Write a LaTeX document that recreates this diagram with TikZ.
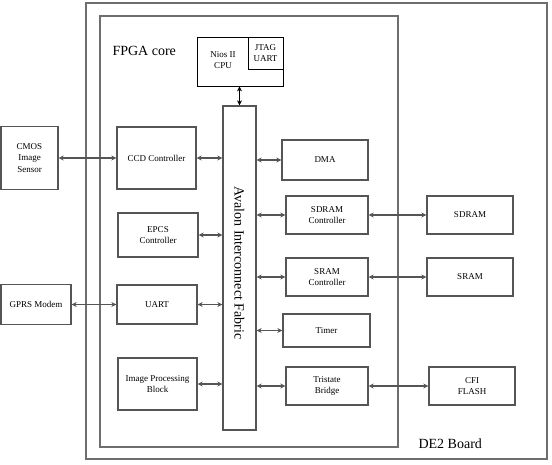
\documentclass[tikz,border=0pt]{standalone}
\usepackage{fontspec}
\setmainfont{Liberation Serif}
\usetikzlibrary{arrows.meta}
\definecolor{framegray}{RGB}{110,110,110}
\definecolor{boxgray}{RGB}{85,85,85}
\tikzset{
    blk/.style={draw=boxgray, line width=1.3pt, inner sep=1pt, align=center, font=\fontsize{9}{11.5}\selectfont},
    frame/.style={draw=framegray, line width=1.8pt},
    link/.style={{Stealth[length=5pt, width=5pt]}-{Stealth[length=5pt, width=5pt]}, draw=boxgray, line width=1.2pt},
    title/.style={anchor=west, font=\fontsize{14}{16}\selectfont}
}
\begin{document}
\begin{tikzpicture}[x=1pt, y=-1pt]
    \useasboundingbox (0,0) rectangle (552,464);

    % 1. BOARD AND FPGA FRAMES
    \draw[frame] (86,3) rectangle (547,459);
    \node[title] (board_label) at (415,444) {DE2 Board};
    \draw[frame] (100,16) rectangle (398,447);
    \node[title] (fpga_label) at (109,51) {FPGA core};

    % 2. CPU
    \node[draw=black, line width=0.9pt, minimum width=86pt, minimum height=49pt] (nios_cpu) at (240,61.5) {};
    \node[blk, draw=none] (nios_label) at (223,60) {Nios II\\CPU};
    \node[blk, draw=black, line width=0.9pt, minimum width=35pt, minimum height=32pt, anchor=north east] (jtag_uart) at (nios_cpu.north east) {JTAG\\UART};

    % 3. AVALON BUS
    \node[blk, minimum width=33pt, minimum height=324pt] (avalon) at (239.5,268) {};
    \node[rotate=-90, font=\fontsize{14}{16}\selectfont] (avalon_label) at (239.5,263) {Avalon Interconnect Fabric};
    \draw[link, draw=black, line width=1.4pt] (avalon.north |- nios_cpu.south) -- (avalon.north);

    % 4. LEFT PERIPHERALS
    \node[blk, minimum width=79pt, minimum height=62pt] (ccd_ctrl) at (156.5,158) {CCD Controller};
    \node[blk, minimum width=80pt, minimum height=44pt] (epcs_ctrl) at (158,235) {EPCS\\Controller};
    \node[blk, minimum width=80pt, minimum height=39pt] (uart) at (157,304.5) {UART};
    \node[blk, minimum width=79pt, minimum height=52pt] (img_proc) at (157.5,384) {Image Processing\\Block};
    \draw[link] (ccd_ctrl.east) -- (ccd_ctrl.east -| avalon.west);
    \draw[link] (epcs_ctrl.east) -- (epcs_ctrl.east -| avalon.west);
    \draw[link] (uart.east) -- (uart.east -| avalon.west);
    \draw[link] (img_proc.east) -- (img_proc.east -| avalon.west);

    % 5. RIGHT PERIPHERALS
    \node[blk, minimum width=86pt, minimum height=40pt] (dma) at (325,160) {DMA};
    \node[blk, minimum width=82pt, minimum height=38pt] (sdram_ctrl) at (327,215) {SDRAM\\Controller};
    \node[blk, minimum width=82pt, minimum height=38pt] (sram_ctrl) at (327,277) {SRAM\\Controller};
    \node[blk, minimum width=87pt, minimum height=33pt] (timer) at (326.5,330.5) {Timer};
    \node[blk, minimum width=82pt, minimum height=38pt] (tristate) at (327,386) {Tristate\\Bridge};
    \draw[link] (avalon.east |- dma.west) -- (dma.west);
    \draw[link] (avalon.east |- sdram_ctrl.west) -- (sdram_ctrl.west);
    \draw[link] (avalon.east |- sram_ctrl.west) -- (sram_ctrl.west);
    \draw[link] (avalon.east |- timer.west) -- (timer.west);
    \draw[link] (avalon.east |- tristate.west) -- (tristate.west);

    % 6. EXTERNAL DEVICES
    \node[blk, minimum width=57pt, minimum height=63pt] (cmos) at (29.5,158) {CMOS\\Image\\Sensor};
    \node[blk, minimum width=70pt, minimum height=40pt] (gprs) at (36,304.5) {GPRS Modem};
    \node[blk, minimum width=86pt, minimum height=38pt] (sdram) at (470,215) {SDRAM};
    \node[blk, minimum width=86pt, minimum height=38pt] (sram) at (470,277) {SRAM};
    \node[blk, minimum width=86pt, minimum height=38pt] (cfi_flash) at (472,386) {CFI\\FLASH};
    \draw[link] (cmos.east) -- (ccd_ctrl.west);
    \draw[link] (gprs.east) -- (uart.west);
    \draw[link] (sdram_ctrl.east) -- (sdram.west);
    \draw[link] (sram_ctrl.east) -- (sram.west);
    \draw[link] (tristate.east) -- (cfi_flash.west);

\end{tikzpicture}
\end{document}
